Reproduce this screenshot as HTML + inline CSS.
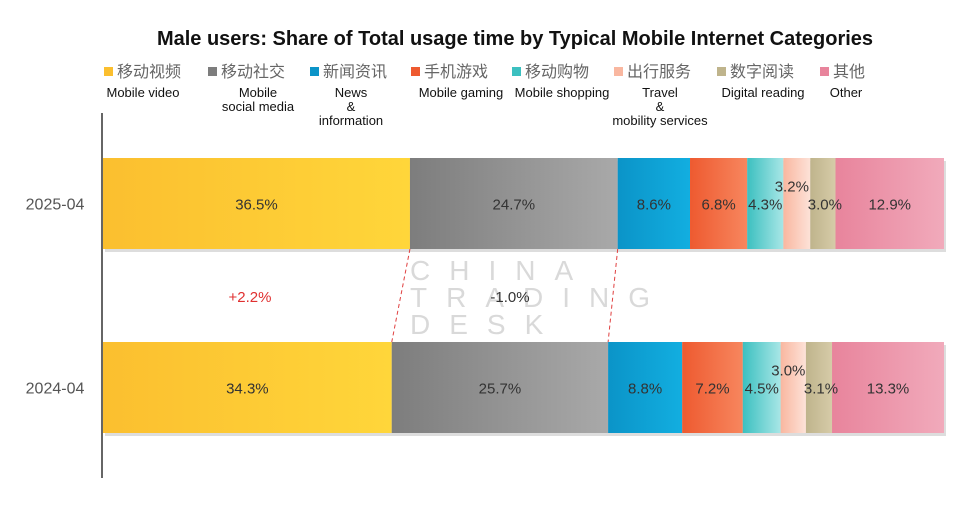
<!DOCTYPE html>
<html><head><meta charset="utf-8"><style>
body{margin:0;background:#fff;width:980px;height:502px;overflow:hidden;font-family:"Liberation Sans","Noto Sans CJK SC",sans-serif}
</style></head><body>
<svg id="c" width="980" height="502" xmlns="http://www.w3.org/2000/svg">
<defs id="defs"></defs>
<text x="515" y="45" text-anchor="middle" font-size="20" font-weight="bold" fill="#111">Male users: Share of Total usage time by Typical Mobile Internet Categories</text>
<g id="legend"></g>
<line x1="102" y1="113" x2="102" y2="478" stroke="#333" stroke-width="1.5"/>
<g id="bars"></g>
<g id="wm" fill="#d0d0d0" font-size="28" letter-spacing="19" opacity="0.8">
<text x="410" y="280">CHINA</text><text x="410" y="307">TRADING</text><text x="410" y="334">DESK</text></g>
<g id="labels"></g>
</svg>
<script>
const categories=["移动视频","移动社交","新闻资讯","手机游戏","移动购物","出行服务","数字阅读","其他"];
const englishNames=[["Mobile video"],["Mobile","social media"],["News","&","information"],["Mobile gaming"],["Mobile shopping"],["Travel","&","mobility services"],["Digital reading"],["Other"]];
const periods=["2025-04","2024-04"];
const values2025=[36.5,24.7,8.6,6.8,4.3,3.2,3.0,12.9];
const values2024=[34.3,25.7,8.8,7.2,4.5,3.0,3.1,13.3];
const changeLabels=["+2.2%","-1.0%"];
const colorsA=["#fbbf2f","#7d7d7d","#0b94c8","#ee5a30","#3cc0c0","#f9b7a0","#bfb48c","#e8849c"];
const colorsB=["#ffd63a","#a9a9a9","#12aee0","#f7865e","#a8e6e6","#fde2d8","#d6cba8","#f1aabb"];
const svg=document.getElementById('c'),NS="http://www.w3.org/2000/svg";
function el(t,a,p){const e=document.createElementNS(NS,t);for(const k in a)e.setAttribute(k,a[k]);(p||svg).appendChild(e);return e;}
const defs=document.getElementById('defs');
colorsA.forEach((c,i)=>{const g=el('linearGradient',{id:'g'+i,x1:0,x2:1,y1:0,y2:0},defs);el('stop',{offset:0,'stop-color':c},g);el('stop',{offset:1,'stop-color':colorsB[i]},g);});
const legendX=[104,208,310,411,512,614,717,820];
const lg=document.getElementById('legend');
categories.forEach((c,i)=>{
  const g=el('g',{},lg);
  
  
  el('rect',{x:legendX[i],y:67,width:9,height:9,fill:colorsA[i]},g);
  const t=el('text',{x:legendX[i]+13,y:77,'font-size':16,fill:'#666'},g);t.textContent=c;
  const cx=legendX[i]+(i==2?41:i==5?46:i==0?39:i==7?26:i==6?46:50);
  englishNames[i].forEach((s,j)=>{const e=el('text',{x:cx,y:97+j*14,'font-size':13,'text-anchor':'middle',fill:'#111'},g);e.textContent=s;});
});
const x0=103,W=841;
function xs(vals){const s=vals.reduce((a,b)=>a+b,0);let acc=0;return vals.map(v=>{const a=x0+acc/s*W;acc+=v;return [a,x0+acc/s*W];});}
const bars=document.getElementById('bars'),labels=document.getElementById('labels');
const rows=[[values2025,158],[values2024,342]];
const pos=rows.map(r=>xs(r[0]));
rows.forEach((r,ri)=>{
  const [vals,y]=r,h=91;
  const lab=el('text',{x:55,y:y+h/2+6,'text-anchor':'middle','font-size':16,fill:'#555'},bars);lab.textContent=periods[ri];
  
  el('rect',{x:x0+2,y:y+3,width:W,height:h,fill:'#ddd'},bars);
  vals.forEach((v,i)=>{
    const [a,b]=pos[ri][i];
    const rc=el('rect',{x:a,y:y,width:b-a,height:h,fill:'url(#g'+i+')'},bars);
    
    
    const ty=i==5?y+h/2-12:y+h/2+6;
    const tx=i==6?(a+b)/2+2:i==5?(a+b)/2-5:(a+b)/2;
    const t=el('text',{x:tx,y:ty,'text-anchor':'middle','font-size':15,fill:'#333'},labels);t.textContent=v.toFixed(1)+'%';
  });
});
[0,1].forEach(i=>{
  const l=el('line',{x1:pos[0][i][1],y1:249,x2:pos[1][i][1],y2:342,stroke:'#e04040','stroke-width':1,'stroke-dasharray':'4,3'},bars);
  
});
const cx=[250,510],cc=["#e03030","#333"];
changeLabels.forEach((s,i)=>{const t=el('text',{x:cx[i],y:302,'text-anchor':'middle','font-size':15,fill:cc[i]},labels);t.textContent=s;
  });
</script>
</body></html>
